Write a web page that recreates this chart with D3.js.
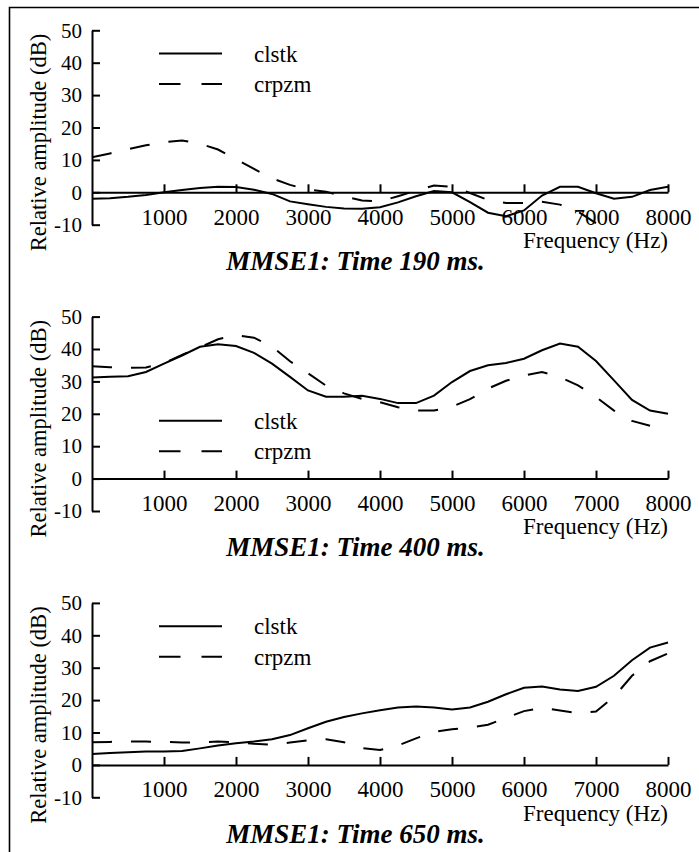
<!DOCTYPE html>
<html>
<head>
<meta charset="utf-8">
<script src="https://cdn.jsdelivr.net/npm/d3@7"></script>
<style>
  body { margin: 0; background: #fff; }
  svg { display: block; }
  text { font-family: "Times New Roman", "Liberation Serif", Tinos, "DejaVu Serif", serif; fill: #000; }
</style>
</head>
<body>
<svg id="chart" width="699" height="852"></svg>
<script>
// sample frequencies (Hz), one every 250 Hz
var freqs = d3.range(0, 8001, 250);

var xTicks = [1000, 2000, 3000, 4000, 5000, 6000, 7000, 8000];
var yTicks = [-10, 0, 10, 20, 30, 40, 50];

var seriesNames = ["clstk", "crpzm"];
var panelTitles = ["MMSE1: Time 190 ms.", "MMSE1: Time 400 ms.", "MMSE1: Time 650 ms."];

// relative amplitude (dB)
var clstk190 = [-2, -1.8, -1.4, -0.8, 0, 0.7, 1.3, 1.7, 1.6, 0.8, -0.5, -2.8, -3.7, -4.5, -5, -5.1,
  -4.6, -3.1, -1.2, 0.4, 0, -3, -6.3, -7.4, -5.6, -1, 1.7, 1.7, -0.3, -2, -1.4, 0.7, 1.7];
var crpzm190 = [10.8, 12, 13.3, 14.5, 15.5, 16, 15, 13.2, 10.2, 7.2, 4.3, 2.3, 0.8, 0.2, -1.3, -2.5,
  -2.8, -1.2, 0.5, 2.1, 1.7, -0.2, -2.4, -3.3, -3.3, -2.9, -3.8, -6, -9.5];

var clstk400 = [31.2, 31.4, 31.6, 32.9, 35.5, 38, 40.7, 41.5, 40.9, 38.8, 35.5, 31.4, 27.2, 25.3, 25.3, 25.6,
  24.6, 23.3, 23.3, 25.6, 29.8, 33.2, 35, 35.7, 37, 39.6, 41.7, 40.7, 36.3, 30.3, 24.3, 21, 20];
var crpzm400 = [34.7, 34.4, 34.2, 34.3, 35.6, 38.2, 40.5, 43, 44.3, 43.5, 40.8, 36.2, 32.5, 28.7, 26.3, 24.6,
  23.6, 22, 21, 21, 22.2, 24.5, 27.8, 30.2, 31.8, 32.9, 31.3, 28.8, 25.2, 21, 17.8, 16.3];

var clstk650 = [3.4, 3.7, 3.9, 4.1, 4.1, 4.3, 5.1, 6, 6.7, 7.2, 7.9, 9.2, 11.3, 13.3, 14.8, 15.9,
  16.9, 17.7, 18, 17.7, 17.1, 17.7, 19.5, 21.8, 23.8, 24.2, 23.3, 22.8, 24.1, 27.5, 32.3, 36.2, 37.8];
var crpzm650 = [7, 7.1, 7.2, 7.2, 7.1, 6.9, 7, 7.2, 7, 6.5, 6.2, 6.9, 7.6, 7.9, 7, 5.2,
  4.6, 6, 8.2, 10.2, 11, 11.5, 12.4, 14.5, 16.6, 17.6, 16.8, 16, 16.5, 21, 27.5, 32, 34.4];

var panels = [
  { title: panelTitles[0], lines: [clstk190, crpzm190], legendY: 53.5 },
  { title: panelTitles[1], lines: [clstk400, crpzm400], legendY: 134.5 },
  { title: panelTitles[2], lines: [clstk650, crpzm650], legendY: 53.7 }
];

var svg = d3.select("#chart");
var panelStep = 286.3;
var dash = "20,19";
var serif = '"Times New Roman", "Liberation Serif", Tinos, "DejaVu Serif", serif';

// outer frame: top and left edges only
svg.append("path")
  .attr("d", "M9.5,852V7.5H699")
  .attr("fill", "none")
  .attr("stroke", "#000")
  .attr("stroke-width", 1.6);

var x = d3.scaleLinear().domain([0, 8000]).range([92, 668]);
var y = d3.scaleLinear().domain([-10, 50]).range([224.7, 30.3]);

var line = d3.line()
  .x(function (d, i) { return x(freqs[i]) })
  .y(function (d) { return y(d) });

// plain labels: no thousands comma, ascii hyphen for negatives
var plain = function (d) { return String(d) };

panels.forEach(function (p, k) {
  var g = svg.append("g").attr("transform", "translate(0," + (k * panelStep) + ")");

  // x axis along 0 dB, ticks pointing up
  var xa = g.append("g")
    .attr("transform", "translate(0," + y(0) + ")")
    .call(d3.axisBottom(x).tickValues(xTicks).tickFormat(plain)
      .tickSize(-8).tickSizeOuter(0).tickPadding(16));

  // y axis, ticks pointing right, labels left
  var ya = g.append("g")
    .attr("transform", "translate(" + x(0) + ",0)")
    .call(d3.axisLeft(y).tickValues(yTicks).tickFormat(plain)
      .tickSize(-8).tickSizeOuter(0).tickPadding(10));

  [xa, ya].forEach(function (a) {
    a.attr("font-family", serif);
    a.selectAll("path, line").attr("stroke", "#000").attr("stroke-width", 2);
    a.selectAll("text").attr("fill", "#000");
  });
  xa.selectAll("text").style("font-size", "23px");
  ya.selectAll("text").style("font-size", "21px");

  // data lines
  p.lines.forEach(function (vals, j) {
    g.append("path")
      .datum(vals)
      .attr("d", line)
      .attr("fill", "none")
      .attr("stroke", "#000")
      .attr("stroke-width", 2)
      .attr("stroke-dasharray", j === 1 ? dash : null);
  });

  // legend
  seriesNames.forEach(function (name, j) {
    var ly = p.legendY + j * 30.5;
    g.append("line")
      .attr("x1", 159).attr("x2", 222)
      .attr("y1", ly).attr("y2", ly)
      .attr("stroke", "#000")
      .attr("stroke-width", 2)
      .attr("stroke-dasharray", j === 1 ? "21.5,21" : null);
    g.append("text")
      .attr("x", 254).attr("y", ly + 8)
      .style("font-size", "23px")
      .text(name);
  });

  // axis titles
  g.append("text")
    .attr("transform", "translate(46,142.5) rotate(-90)")
    .attr("text-anchor", "middle")
    .style("font-size", "22.5px")
    .text("Relative amplitude (dB)");

  g.append("text")
    .attr("x", 668).attr("y", 248)
    .attr("text-anchor", "end")
    .style("font-size", "23px")
    .text("Frequency (Hz)");

  g.append("text")
    .attr("x", 355.5).attr("y", 270)
    .attr("text-anchor", "middle")
    .style("font-size", "27px")
    .style("font-weight", "bold")
    .style("font-style", "italic")
    .text(p.title);
});
</script>
</body>
</html>
